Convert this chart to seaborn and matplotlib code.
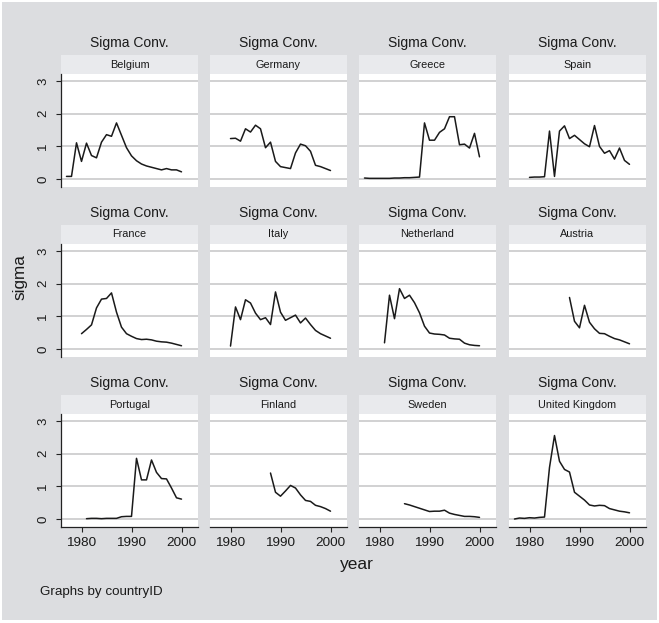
import numpy as np
import pandas as pd
import seaborn as sns
import matplotlib
matplotlib.use("Agg")
import matplotlib.pyplot as plt
from matplotlib.patches import Rectangle

# ---------------- data ----------------
countries = ["Belgium", "Germany", "Greece", "Spain",
             "France", "Italy", "Netherland", "Austria",
             "Portugal", "Finland", "Sweden", "United Kingdom"]

belgium_years = list(range(1977, 2001))
belgium = [0.08, 0.08, 1.11, 0.54, 1.10, 0.72, 0.65, 1.13, 1.36, 1.31, 1.72, 1.34,
           0.96, 0.71, 0.56, 0.46, 0.40, 0.36, 0.32, 0.28, 0.32, 0.28, 0.28, 0.22]

germany_years = list(range(1980, 2001))
germany = [1.24, 1.25, 1.16, 1.54, 1.44, 1.65, 1.54, 0.96, 1.13, 0.54, 0.38,
           0.35, 0.32, 0.80, 1.07, 1.02, 0.85, 0.42, 0.38, 0.32, 0.26]

greece_years = list(range(1977, 2001))
greece = [0.03, 0.02, 0.02, 0.02, 0.02, 0.02, 0.03, 0.03, 0.04, 0.04, 0.05, 0.06,
          1.72, 1.19, 1.19, 1.43, 1.54, 1.91, 1.91, 1.05, 1.07, 0.95, 1.40, 0.68]

spain_years = list(range(1980, 2001))
spain = [0.05, 0.06, 0.06, 0.07, 1.47, 0.08, 1.47, 1.63, 1.24, 1.34, 1.21,
         1.08, 0.99, 1.64, 1.00, 0.79, 0.87, 0.61, 0.95, 0.57, 0.45]

france_years = list(range(1980, 2001))
france = [0.47, 0.60, 0.74, 1.26, 1.53, 1.55, 1.72, 1.13, 0.67, 0.47, 0.39,
          0.32, 0.29, 0.30, 0.28, 0.24, 0.22, 0.21, 0.18, 0.14, 0.10]

italy_years = list(range(1980, 2001))
italy = [0.09, 1.29, 0.90, 1.51, 1.41, 1.10, 0.90, 0.96, 0.75, 1.75, 1.13,
         0.88, 0.96, 1.04, 0.80, 0.95, 0.75, 0.57, 0.47, 0.40, 0.33]

netherland_years = list(range(1981, 2001))
netherland = [0.19, 1.65, 0.93, 1.85, 1.55, 1.65, 1.42, 1.11, 0.70, 0.49,
              0.46, 0.45, 0.43, 0.33, 0.31, 0.30, 0.18, 0.13, 0.11, 0.10]

austria_years = list(range(1988, 2001))
austria = [1.58, 0.85, 0.65, 1.34, 0.82, 0.62, 0.48, 0.47, 0.39, 0.32, 0.28, 0.22, 0.16]

portugal_years = list(range(1981, 2001))
portugal = [0.01, 0.02, 0.02, 0.01, 0.02, 0.02, 0.02, 0.07, 0.08, 0.08,
            1.86, 1.20, 1.20, 1.81, 1.43, 1.24, 1.23, 0.95, 0.65, 0.61]

finland_years = list(range(1988, 2001))
finland = [1.41, 0.82, 0.70, 0.86, 1.03, 0.95, 0.74, 0.57, 0.54, 0.42, 0.38, 0.32, 0.24]

sweden_years = list(range(1985, 2001))
sweden = [0.47, 0.43, 0.38, 0.33, 0.28, 0.23, 0.24, 0.24, 0.27, 0.18, 0.14,
          0.11, 0.08, 0.08, 0.07, 0.05]

uk_years = list(range(1977, 2001))
uk = [0.00, 0.03, 0.02, 0.04, 0.03, 0.05, 0.06, 1.58, 2.56, 1.77, 1.52, 1.44,
      0.82, 0.70, 0.58, 0.43, 0.40, 0.42, 0.41, 0.32, 0.28, 0.24, 0.22, 0.19]

x_ticks = [1980, 1990, 2000]
y_ticks = [0, 1, 2, 3]

series = [(belgium_years, belgium), (germany_years, germany), (greece_years, greece),
          (spain_years, spain), (france_years, france), (italy_years, italy),
          (netherland_years, netherland), (austria_years, austria),
          (portugal_years, portugal), (finland_years, finland),
          (sweden_years, sweden), (uk_years, uk)]

frames = []
for name, (yrs, vals) in zip(countries, series):
    frames.append(pd.DataFrame({"country": name, "year": yrs, "sigma": vals}))
df = pd.concat(frames, ignore_index=True)

# ---------------- style ----------------
sns.set_theme(style="white")
plt.rcParams["font.family"] = ["Liberation Sans", "DejaVu Sans"]

W, H = 659, 623
BG = "#dcdde0"
STRIP = "#e9eaed"
GRID = "#c9c9cb"

g = sns.FacetGrid(df, col="country", col_wrap=4, col_order=countries,
                  sharex=True, sharey=True, height=2, aspect=1)
g.map_dataframe(sns.lineplot, x="year", y="sigma", color="#1a1a1a",
                linewidth=1.1, estimator=None)
fig = g.figure
fig.set_size_inches(W / 100, H / 100)
fig.set_dpi(100)
fig.patch.set_facecolor("white")
fig.patches.append(Rectangle((2 / W, 3 / H), (W - 4) / W, (H - 5) / H,
                             transform=fig.transFigure, facecolor=BG,
                             edgecolor="none", zorder=-10))

lefts = [61, 210, 359, 509]
tops = [74, 244, 414]
pw, ph = 137, 113
strip_h = 19

for i, ax in enumerate(g.axes.flat):
    r, c = divmod(i, 4)
    left, top = lefts[c], tops[r]
    ax.set_position([left / W, 1 - (top + ph) / H, pw / W, ph / H])
    ax.set_facecolor("white")
    ax.set_xlim(1975.9, 2003.3)
    ax.set_ylim(-0.245, 3.22)
    ax.set_yticks(y_ticks)
    ax.set_xticks(x_ticks)
    ax.set_title("")
    ax.set_xlabel("")
    ax.set_ylabel("")
    ax.grid(False)
    for yv in y_ticks:
        ax.axhline(yv, color=GRID, lw=1.2, zorder=0)
    for s in ax.spines.values():
        s.set_visible(False)
    if c == 0:
        ax.spines["left"].set_visible(True)
        ax.spines["left"].set_color("#222222")
        ax.spines["left"].set_linewidth(0.9)
        ax.tick_params(axis="y", left=True, length=3.5, width=0.8, color="#222222",
                       labelleft=True, labelsize=9.5, pad=5, labelcolor="#1a1a1a")
        for lab in ax.get_yticklabels():
            lab.set_rotation(90)
            lab.set_va("center")
    else:
        ax.tick_params(axis="y", left=False, labelleft=False)
    if r == 2:
        ax.spines["bottom"].set_visible(True)
        ax.spines["bottom"].set_color("#222222")
        ax.spines["bottom"].set_linewidth(0.9)
        ax.tick_params(axis="x", bottom=True, length=3.5, width=0.8, color="#222222",
                       labelbottom=True, labelsize=9.7, pad=4, labelcolor="#1a1a1a")
    else:
        ax.tick_params(axis="x", bottom=False, labelbottom=False)

    # strip
    fig.patches.append(Rectangle((left / W, 1 - top / H), pw / W, strip_h / H,
                                 transform=fig.transFigure, facecolor=STRIP,
                                 edgecolor="none", zorder=-5))
    fig.text((left + pw / 2) / W, 1 - (top - strip_h / 2) / H, countries[i],
             ha="center", va="center", fontsize=7.8, color="#1a1a1a")
    fig.text((left + pw / 2) / W, 1 - (top - 31) / H, "Sigma Conv.",
             ha="center", va="center", fontsize=10, color="#1a1a1a")

fig.text(20 / W, 1 - 277 / H, "sigma", rotation=90, ha="center", va="center",
         fontsize=12.3, color="#1a1a1a")
fig.text(357 / W, 1 - 565 / H, "year", ha="center", va="center",
         fontsize=12.5, color="#1a1a1a")
fig.text(40 / W, 1 - 592 / H, "Graphs by countryID", ha="left", va="center",
         fontsize=9.6, color="#1a1a1a")

fig.savefig("out.png", dpi=100, facecolor=fig.get_facecolor())
